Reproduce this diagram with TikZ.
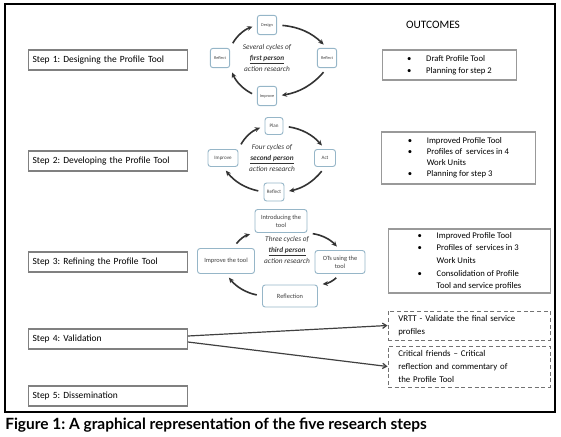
\documentclass[tikz,border=0pt]{standalone}
\usepackage{fontspec}
\setmainfont{Carlito}
\newfontfamily\capfont{Lato}
\usetikzlibrary{arrows.meta}
\definecolor{cycedge}{RGB}{150,182,200}
\frenchspacing

\begin{document}
\begin{tikzpicture}[x=0.75pt,y=-0.75pt,
  stepbox/.style={draw=black!50,line width=0.9pt,anchor=west,minimum width=119pt,minimum height=15pt,text width=113pt,inner xsep=3pt,align=left,font=\fontsize{7.1}{8}\selectfont},
  cycbox/.style={draw=cycedge,line width=0.7pt,rounded corners=2pt,fill=white,inner sep=0pt,align=center,text=black!75},
  cyc/.style={-{Stealth[length=4pt,width=3.6pt]},line width=1.2pt,black!80,shorten <=4pt,shorten >=3.5pt},
  midtext/.style={align=center,font=\fontsize{5.5}{7.9}\selectfont\itshape,text=black!80},
  outbox/.style={draw=black!40,line width=0.8pt,inner sep=0pt,font=\fontsize{6.5}{9}\selectfont},
  valbox/.style={draw=black!55,densely dashed,line width=0.7pt,minimum width=121.5pt,text width=106pt,align=left,inner xsep=7.75pt,font=\fontsize{6.6}{9.4}\selectfont},
  valarrow/.style={-{Straight Barb[length=3pt,width=4pt]},line width=0.9pt,black!75}]
        \useasboundingbox (0,0) rectangle (561,436);
        \draw[line width=0.9pt] (5,4) rectangle (555,412);

        % steps
        \draw (28,60) node[stepbox] (s1) {Step 1: Designing the Profile Tool};
        \draw (28,161) node[stepbox] (s2) {Step 2: Developing the Profile Tool};
        \draw (28,262) node[stepbox] (s3) {Step 3: Refining the Profile Tool};
        \draw (28,339) node[stepbox] (s4) {Step 4: Validation};
        \draw (28,396) node[stepbox] (s5) {Step 5: Dissemination};

        % first cycle
        \begin{scope}[every node/.append style={font=\fontsize{3.2}{4}\selectfont,minimum width=14.5pt,minimum height=14.5pt}]
        \draw (267,25) node[cycbox] (d) {Design};
        \draw (220,58) node[cycbox] (rl) {Reflect};
        \draw (327,58) node[cycbox] (rr) {Reflect};
        \draw (267,96) node[cycbox] (im) {Improve};
        \end{scope}
        \draw (267,58) node[midtext] (c1) {Several cycles of\\\underline{\textbf{first person}}\\action research};
        \draw[cyc] (rl.north east) to[bend left=20] (d.west);
        \draw[cyc] (d.east) to[bend left=20] (rr.north);
        \draw[cyc] (rr.south) to[bend left=20] (im.east);
        \draw[cyc] (im.west) to[bend left=20] (rl.south east);

        % second cycle
        \begin{scope}[every node/.append style={font=\fontsize{3.8}{4.5}\selectfont,minimum height=12.75pt}]
        \draw (274,126) node[cycbox,minimum width=13.5pt] (pl) {Plan};
        \draw (223,158) node[cycbox,minimum width=22.5pt] (ip) {Improve};
        \draw (325,158) node[cycbox,minimum width=15.75pt] (ac) {Act};
        \draw (274,192) node[cycbox,minimum width=15pt,minimum height=13.5pt] (rf) {Reflect};
        \end{scope}
        \draw (272,158) node[midtext] (c2) {Four cycles of\\\underline{\textbf{second person}}\\action research};
        \draw[cyc] (ip.north east) to[bend left=20] (pl.west);
        \draw[cyc] (pl.east) to[bend left=20] (ac.north);
        \draw[cyc] (ac.south) to[bend left=20] (rf.east);
        \draw[cyc] (rf.west) to[bend left=20] (ip.south);

        % third cycle
        \begin{scope}[every node/.append style={font=\fontsize{4.8}{5.8}\selectfont}]
        \draw (281,221) node[cycbox,minimum width=39pt,minimum height=17.25pt] (it) {Introducing the\\tool};
        \draw (226,261) node[cycbox,minimum width=42.75pt,minimum height=18.75pt] (ipt) {Improve the tool};
        \draw (340,262) node[cycbox,minimum width=37.5pt,minimum height=17.25pt] (ot) {OTs using the\\tool};
        \draw (290,296) node[cycbox,minimum width=41.25pt,minimum height=16.5pt] (rn) {Reflection};
        \end{scope}
        \draw (287,250) node[midtext] (c3) {Three cycles of\\\underline{\textbf{third person}}\\action research};
        \draw[cyc] (ipt.60) to[bend left=20] (it.south west);
        \draw[cyc] (it.south east) to[bend left=20] (ot.north);
        \draw[cyc] (ot.south) to[bend left=20] (rn.north east);
        \draw[cyc] (rn.west) to[bend left=20] (ipt.south);

        % outcomes
        \draw (433,25) node[font=\fontsize{8.5}{10}\selectfont] (oc) {OUTCOMES};
        \draw (449.5,65) node[outbox,minimum width=101pt,minimum height=22.5pt] (o1)
        {\begin{tabular}{@{}l@{\hspace{11pt}}l@{}}\textbullet & Draft Profile Tool\\\textbullet & Planning for step 2\end{tabular}};
        \draw (458.5,158) node[outbox,minimum width=115pt,minimum height=39pt,font=\fontsize{6.5}{8.3}\selectfont] (o2)
        {\begin{tabular}{@{}l@{\hspace{11pt}}l@{}}\textbullet & Improved Profile Tool\\\textbullet & Profiles of \ services in 4\\ & Work Units\\\textbullet & Planning for step 3\end{tabular}};
        \draw (469.5,261) node[outbox,minimum width=121pt,minimum height=48pt,font=\fontsize{6.5}{9.4}\selectfont] (o3)
        {\begin{tabular}{@{}l@{\hspace{11pt}}l@{}}\textbullet & Improved Profile Tool\\\textbullet & Profiles of \ services in 3\\ & Work Units\\\textbullet & Consolidation of Profile\\ & Tool and service profiles\end{tabular}};

        % validation
        \draw (469,325.5) node[valbox,minimum height=21.75pt] (v1) {VRTT - Validate the final service\\profiles};
        \draw (469,366.5) node[valbox,minimum height=30.75pt] (v2) {Critical friends -- Critical\\reflection and commentary of\\the Profile Tool};
        \draw[valarrow] ([yshift=2.25pt]s4.east) -- (v1.west);
        \draw[valarrow] ([yshift=-2.25pt]s4.east) -- (v2.west);

        \draw (5,425) node[anchor=west,inner sep=0pt,font=\capfont\bfseries\fontsize{11.6}{13}\selectfont] (cap)
        {Figure 1: A graphical representation of the five research steps};
\end{tikzpicture}
\end{document}
